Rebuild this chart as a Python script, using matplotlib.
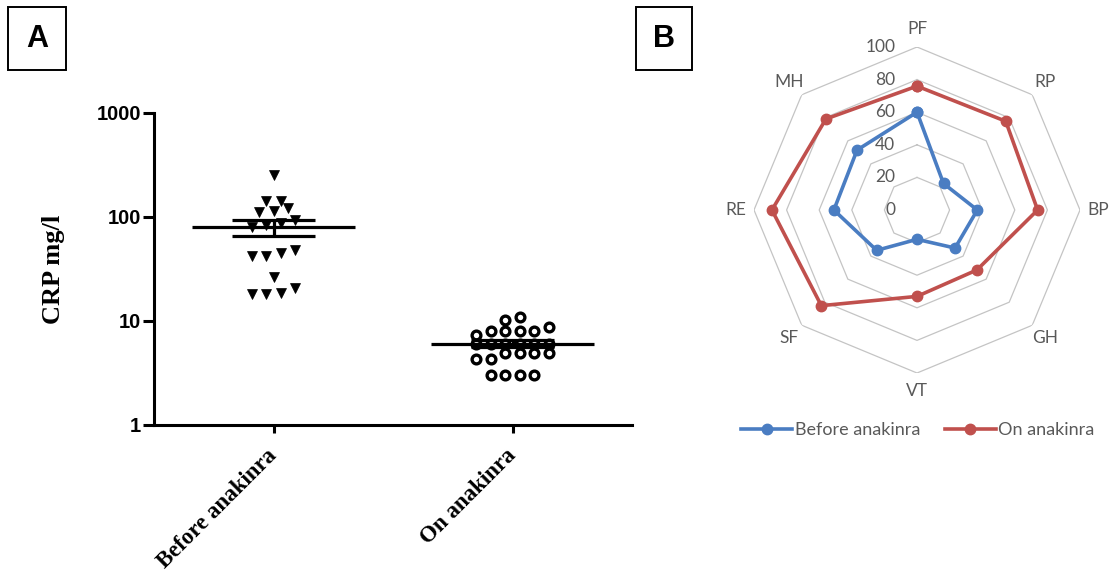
import numpy as np
import matplotlib
matplotlib.use('Agg')
import matplotlib.pyplot as plt
from matplotlib.patches import Rectangle
from matplotlib.lines import Line2D

# ---------------- data ----------------
groups = ['Before anakinra', 'On anakinra']
crp_before = [255, 142, 142, 122, 114, 112, 93, 88, 84, 80, 48, 45, 42, 42,
              26.5, 20.8, 18.6, 18.2, 18.2]
crp_on = [10.9, 10.2, 8.7, 8.0, 8.0, 8.0, 8.0, 7.4, 6.0, 6.0, 6.0, 6.0, 6.0, 6.0,
          4.9, 4.9, 4.9, 4.9, 4.3, 4.3, 3.0, 3.0, 3.0, 3.0]
crp_ticks = [1, 10, 100, 1000]

domains = ['PF', 'RP', 'BP', 'GH', 'VT', 'SF', 'RE', 'MH']
sf36_before = [60, 23, 37, 33, 18, 35, 51, 52]
sf36_on = [76, 77, 74, 52, 53, 83, 89, 79]
radar_ticks = [0, 20, 40, 60, 80, 100]
series_names = ['Before anakinra', 'On anakinra']

# ---------------- figure ----------------
W, H = 1117, 585
fig = plt.figure(figsize=(W / 100, H / 100), dpi=100)
fig.patch.set_facecolor('white')


def px(x0, y0, x1, y1):
    """pixel box (top-left origin) -> figure fraction rect"""
    return [x0 / W, 1 - y1 / H, (x1 - x0) / W, (y1 - y0) / H]


def swarm_offsets(vals, row_h=0.08, step=0.061):
    logv = np.log10(vals)
    order = np.argsort(logv, kind='stable')
    offs = np.zeros(len(vals))
    rows, cur = [], [order[0]]
    for idx in order[1:]:
        if logv[idx] - logv[cur[0]] <= row_h:
            cur.append(idx)
        else:
            rows.append(cur)
            cur = [idx]
    rows.append(cur)
    for r in rows:
        n = len(r)
        for k, idx in enumerate(r):
            offs[idx] = (k - (n - 1) / 2) * step
    return offs


# ---------------- panel A ----------------
axA = fig.add_axes(px(154, 113, 632, 425))
axA.set_yscale('log')
axA.set_ylim(1, 1000)
axA.set_xlim(-0.5, 1.5)

series = [np.array(crp_before, float), np.array(crp_on, float)]
styles = [dict(marker='v', ms=7.8, mfc='black', mec='black', mew=0.5),
          dict(marker='o', ms=6.3, mfc='white', mec='black', mew=2.4)]
for i, (vals, st) in enumerate(zip(series, styles)):
    xs = i + swarm_offsets(vals)
    axA.plot(xs, vals, linestyle='none', zorder=3, clip_on=False, **st)
    m = vals.mean()
    sem = vals.std(ddof=1) / np.sqrt(len(vals))
    axA.hlines(m, i - 0.34, i + 0.34, color='black', lw=2.3, zorder=4)
    axA.hlines([m - sem, m + sem], i - 0.173, i + 0.173, color='black', lw=2.3, zorder=4)
    axA.vlines(i, m - sem, m + sem, color='black', lw=2.3, zorder=4)

for s in ['top', 'right']:
    axA.spines[s].set_visible(False)
for s in ['left', 'bottom']:
    axA.spines[s].set_linewidth(2.2)
axA.set_yticks(crp_ticks)
axA.set_yticklabels([str(t) for t in crp_ticks], fontfamily='Liberation Sans',
                    fontweight='bold', fontsize=14.5)
axA.yaxis.set_minor_locator(matplotlib.ticker.NullLocator())
axA.tick_params(axis='y', length=8, width=2.2, pad=1.5)
axA.set_xticks([0, 1])
axA.set_xticklabels(groups, rotation=45, ha='right', va='center',
                    rotation_mode='anchor', fontfamily='Liberation Serif',
                    fontweight='bold', fontsize=16.5)
axA.tick_params(axis='x', length=6, width=2.2, pad=14)
axA.set_ylabel('CRP mg/l', fontfamily='Liberation Serif', fontweight='bold',
               fontsize=19)
axA.yaxis.set_label_coords(-0.186, 0.5)

# ---------------- panel B (radar) ----------------
cx, cy, R = 917, 210, 163
axB = fig.add_axes(px(cx - R, cy - R, cx + R, cy + R), projection='polar')
axB.set_theta_zero_location('N')
axB.set_theta_direction(-1)
axB.grid(False)
axB.set_xticks([])
axB.set_yticks([])
axB.spines['polar'].set_visible(False)
axB.patch.set_visible(False)

n = len(domains)
angles = np.arange(n) * 2 * np.pi / n
closed = np.append(angles, angles[0])
for t in radar_ticks[1:]:
    axB.plot(closed, [t] * (n + 1), color='#C4C4C4', lw=0.9, zorder=1)

blue, red = '#4A7DC2', '#C0504D'
for vals, col, name in zip([sf36_before, sf36_on], [blue, red], series_names):
    axB.plot(closed, list(vals) + [vals[0]], color=col, lw=2.6, marker='o',
             ms=7.5, zorder=3, label=name)
axB.set_ylim(0, 100)

grey = '#595959'
for a, d in zip(angles, domains):
    axB.text(a, 111, d, ha='center', va='center', fontsize=12.5, color=grey,
             fontfamily='Lato', clip_on=False)
for t in radar_ticks:
    axB.annotate(str(t), xy=(0, t), xytext=(-15.6, 0), textcoords='offset points',
                 ha='right', va='center', fontsize=12.5, color=grey,
                 fontfamily='Lato', annotation_clip=False)

handles = [Line2D([], [], color=blue, lw=2.6, marker='o', ms=7.5),
           Line2D([], [], color=red, lw=2.6, marker='o', ms=7.5)]
fig.legend(handles, series_names, loc='center', bbox_to_anchor=(918 / W, 1 - 430 / H),
           ncol=2, frameon=False, handlelength=2.8, handletextpad=0.15,
           columnspacing=1.4, prop={'family': 'Lato', 'size': 13},
           labelcolor=grey)

# ---------------- panel letters ----------------
for (x0, x1), letter in [((8, 66), 'A'), ((636, 692), 'B')]:
    r = px(x0, 7, x1, 70)
    fig.add_artist(Rectangle((r[0], r[1]), r[2], r[3], transform=fig.transFigure,
                             fill=False, edgecolor='black', lw=1.4))
    fig.text((x0 + x1) / 2 / W, 1 - 39 / H, letter, ha='center', va='center',
             fontsize=22, fontweight='bold', fontfamily='Liberation Sans')

fig.savefig('out.png', dpi=100, facecolor='white')
